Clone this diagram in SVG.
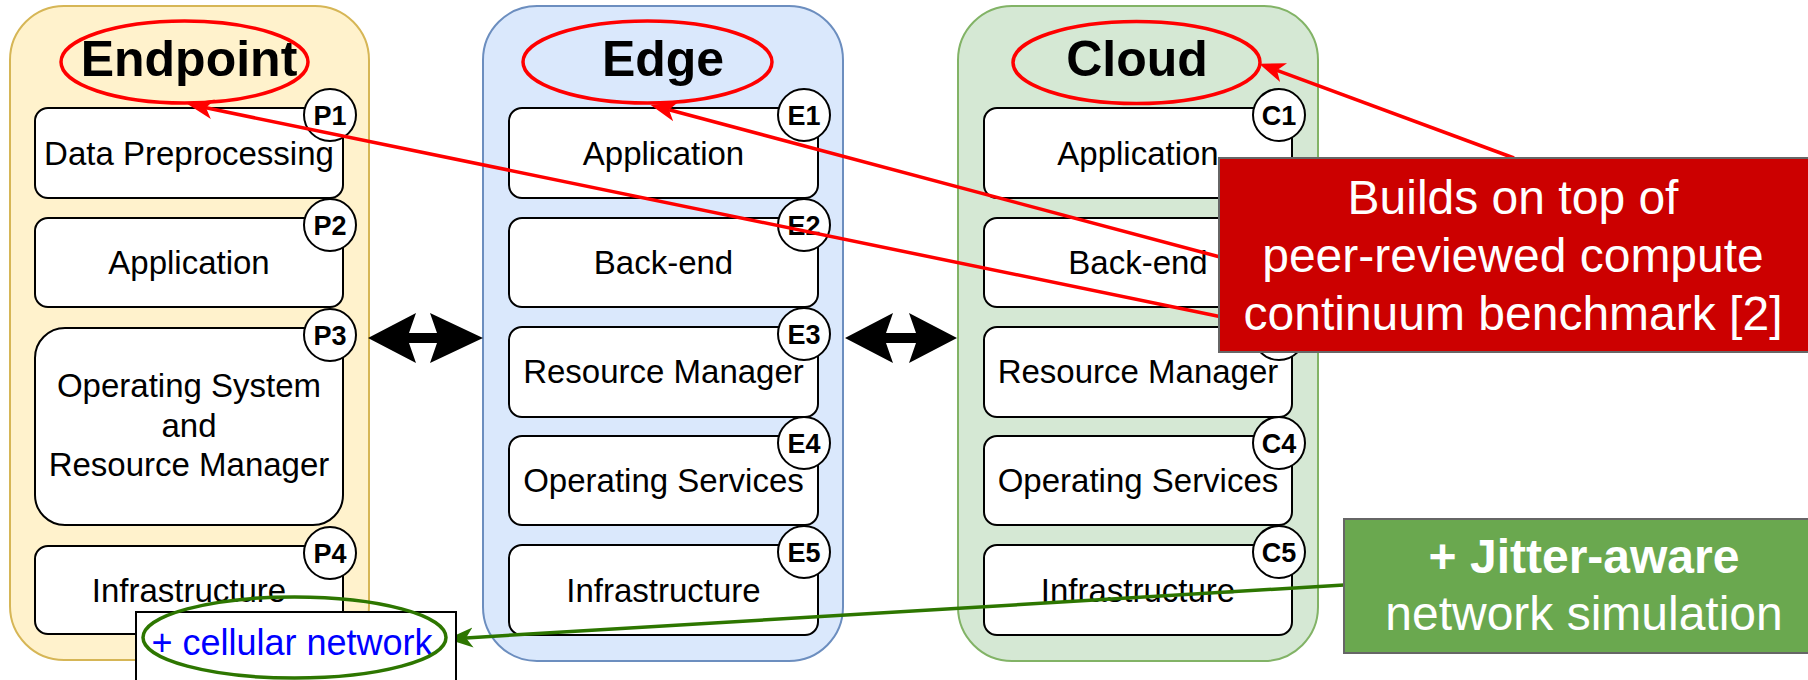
<svg xmlns="http://www.w3.org/2000/svg" width="1808" height="680" viewBox="0 0 1808 680">
<style>
text{font-family:"Liberation Sans",Arial,sans-serif;text-anchor:middle}
.title{font-size:50px;font-weight:bold;fill:#000}
.lbl{font-size:33px;fill:#000}
.tag{font-size:27px;font-weight:bold;fill:#000}
.box{fill:#fff;stroke:#000;stroke-width:2}
.cir{fill:#fff;stroke:#000;stroke-width:2}
.ring{fill:none;stroke:#ff0000;stroke-width:3.5}
.red{fill:none;stroke:#ff0000;stroke-width:3.5}
.grn{fill:none;stroke:#2d7600;stroke-width:3.5}
.note{font-size:48px;fill:#fff}
</style>
<defs>
<marker id="ar" markerUnits="userSpaceOnUse" markerWidth="34" markerHeight="28" viewBox="0 -14 34 28" refX="7" refY="0" orient="auto">
<path d="M0,-10 L26,0 L0,10 L7,0 Z" fill="#ff0000"/>
</marker>
<marker id="ag" markerUnits="userSpaceOnUse" markerWidth="34" markerHeight="28" viewBox="0 -14 34 28" refX="7" refY="0" orient="auto">
<path d="M0,-10 L26,0 L0,10 L7,0 Z" fill="#2d7600"/>
</marker>
</defs>
<rect width="1808" height="680" fill="#fff"/>

<g id="endpoint">
<rect x="10" y="6" width="359" height="654" rx="54" fill="#fff2cc" stroke="#d6b656" stroke-width="2"/>
<text class="title" x="189" y="76">Endpoint</text>
<ellipse class="ring" cx="184.5" cy="62" rx="123.5" ry="41"/>
<g id="P1"><rect class="box" x="35" y="108" width="308" height="90" rx="13"/><text class="lbl" x="189" y="165">Data Preprocessing</text><circle class="cir" cx="330" cy="115" r="26"/><text class="tag" x="330" y="125">P1</text></g>
<g id="P2"><rect class="box" x="35" y="218" width="308" height="89" rx="13"/><text class="lbl" x="189" y="274">Application</text><circle class="cir" cx="330" cy="225" r="26"/><text class="tag" x="330" y="235">P2</text></g>
<g id="P3"><rect class="box" x="35" y="328" width="308" height="197" rx="30"/><text class="lbl" x="189" y="397">Operating System</text><text class="lbl" x="189" y="437">and</text><text class="lbl" x="189" y="476">Resource Manager</text><circle class="cir" cx="330" cy="335" r="26"/><text class="tag" x="330" y="345">P3</text></g>
<g id="P4"><rect class="box" x="35" y="546" width="308" height="88" rx="13"/><text class="lbl" x="189" y="602">Infrastructure</text><circle class="cir" cx="330" cy="553" r="26"/><text class="tag" x="330" y="563">P4</text></g>
</g>

<g id="edge">
<rect x="483" y="6" width="360" height="655" rx="54" fill="#dae8fc" stroke="#6c8ebf" stroke-width="2"/>
<text class="title" x="663" y="76">Edge</text>
<ellipse class="ring" cx="647.5" cy="62" rx="124.5" ry="41"/>
<g id="E1"><rect class="box" x="509" y="108" width="309" height="90" rx="13"/><text class="lbl" x="663.5" y="165">Application</text><circle class="cir" cx="804" cy="115" r="26"/><text class="tag" x="804" y="125">E1</text></g>
<g id="E2"><rect class="box" x="509" y="218" width="309" height="89" rx="13"/><text class="lbl" x="663.5" y="274">Back-end</text><circle class="cir" cx="804" cy="225" r="26"/><text class="tag" x="804" y="235">E2</text></g>
<g id="E3"><rect class="box" x="509" y="327" width="309" height="90" rx="13"/><text class="lbl" x="663.5" y="383">Resource Manager</text><circle class="cir" cx="804" cy="334" r="26"/><text class="tag" x="804" y="344">E3</text></g>
<g id="E4"><rect class="box" x="509" y="436" width="309" height="89" rx="13"/><text class="lbl" x="663.5" y="492">Operating Services</text><circle class="cir" cx="804" cy="443" r="26"/><text class="tag" x="804" y="453">E4</text></g>
<g id="E5"><rect class="box" x="509" y="545" width="309" height="90" rx="13"/><text class="lbl" x="663.5" y="602">Infrastructure</text><circle class="cir" cx="804" cy="552" r="26"/><text class="tag" x="804" y="562">E5</text></g>
</g>

<g id="cloud">
<rect x="958" y="6" width="360" height="655" rx="54" fill="#d5e8d4" stroke="#82b366" stroke-width="2"/>
<text class="title" x="1137" y="76">Cloud</text>
<ellipse class="ring" cx="1136.5" cy="62.5" rx="123.5" ry="41"/>
<g id="C1"><rect class="box" x="984" y="108" width="308" height="90" rx="13"/><text class="lbl" x="1138" y="165">Application</text><circle class="cir" cx="1279" cy="115" r="26"/><text class="tag" x="1279" y="125">C1</text></g>
<g id="C2"><rect class="box" x="984" y="218" width="308" height="89" rx="13"/><text class="lbl" x="1138" y="274">Back-end</text><circle class="cir" cx="1279" cy="225" r="26"/><text class="tag" x="1279" y="235">C2</text></g>
<g id="C3"><rect class="box" x="984" y="327" width="308" height="90" rx="13"/><text class="lbl" x="1138" y="383">Resource Manager</text><circle class="cir" cx="1279" cy="334" r="26"/><text class="tag" x="1279" y="344">C3</text></g>
<g id="C4"><rect class="box" x="984" y="436" width="308" height="89" rx="13"/><text class="lbl" x="1138" y="492">Operating Services</text><circle class="cir" cx="1279" cy="443" r="26"/><text class="tag" x="1279" y="453">C4</text></g>
<g id="C5"><rect class="box" x="984" y="545" width="308" height="90" rx="13"/><text class="lbl" x="1138" y="602">Infrastructure</text><circle class="cir" cx="1279" cy="552" r="26"/><text class="tag" x="1279" y="562">C5</text></g>
</g>

<g id="connectors">
<path d="M368,338 L416,313 L409,333 L437,333 L430,313 L483,338 L430,363 L437,343 L409,343 L416,363 Z" fill="#000"/>
<path d="M845,338 L893,313 L886,333 L916,333 L909,313 L957,338 L909,363 L916,343 L886,343 L893,363 Z" fill="#000"/>
<line class="red" x1="1222" y1="317" x2="206" y2="107.8" marker-end="url(#ar)"/>
<line class="red" x1="1220" y1="257" x2="669" y2="109.8" marker-end="url(#ar)"/>
<line class="red" x1="1514" y1="158" x2="1277" y2="70.3" marker-end="url(#ar)"/>
<line class="grn" x1="1344" y1="585" x2="466" y2="637.9" marker-end="url(#ag)"/>
</g>

<g id="note-benchmark">
<rect x="1219" y="158" width="600" height="194" fill="#cc0000" stroke="#666666" stroke-width="2"/>
<text class="note" x="1513" y="214">Builds on top of</text>
<text class="note" x="1513" y="272">peer-reviewed compute</text>
<text class="note" x="1513" y="330">continuum benchmark [2]</text>
</g>

<g id="note-jitter">
<rect x="1344" y="519" width="480" height="134" fill="#6aa84f" stroke="#666666" stroke-width="2"/>
<text class="note" x="1584" y="573" font-weight="bold">+ Jitter-aware</text>
<text class="note" x="1584" y="630">network simulation</text>
</g>

<g id="cellular">
<rect x="136" y="612" width="320" height="80" fill="#fff" stroke="#000" stroke-width="2"/>
<text x="292" y="655" style="font-size:36px;fill:#0000ff">+ cellular network</text>
<ellipse cx="294.5" cy="637.5" rx="151.5" ry="40.5" fill="none" stroke="#2d7600" stroke-width="3.5"/>
</g>
</svg>
